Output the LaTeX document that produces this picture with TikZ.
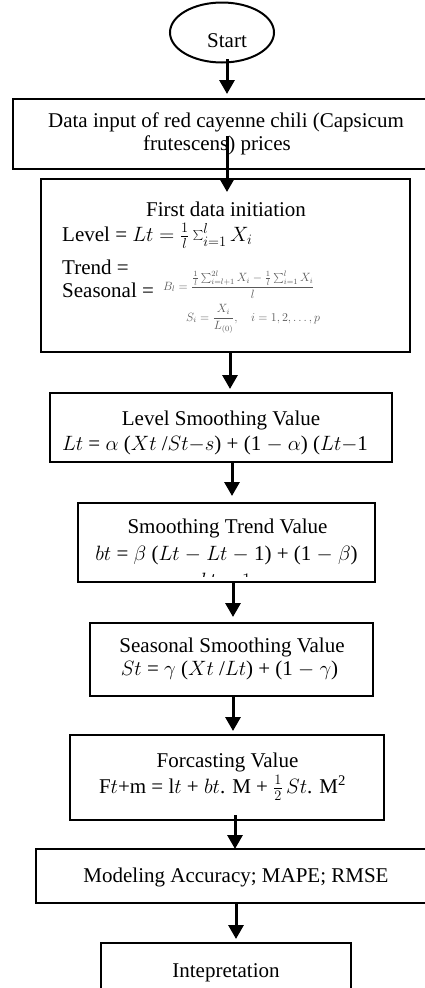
\documentclass[tikz,border=0pt]{standalone}
\usepackage{fontspec}
\setmainfont{Liberation Serif}
\usetikzlibrary{arrows.meta,shapes.geometric}
\begin{document}
\begin{tikzpicture}[x=1pt,y=-1pt,
  box/.style={draw,line width=2pt,rectangle,inner sep=0pt},
  arr/.style={line width=3pt,-{Triangle[length=14pt,width=15pt]}},
  txt/.style={inner sep=0pt,font=\fontsize{21}{23}\selectfont},
  small/.style={inner sep=0pt,text=black!65,font=\fontsize{11.5}{13}\selectfont}]
\clip (0,0) rectangle (425,988);
% shapes
\node[draw,ellipse,line width=2pt,minimum width=104pt,minimum height=60pt,inner sep=0pt] (start) at (222,32.5) {};
\node[box,minimum width=417pt,minimum height=70pt] (b1) at (221.5,134) {};
\node[box,minimum width=369pt,minimum height=173pt] (b2) at (225.5,265.5) {};
\node[box,minimum width=342pt,minimum height=69pt] (b3) at (221,427.5) {};
\node[box,minimum width=297pt,minimum height=79pt] (b4) at (226.5,542.5) {};
\node[box,minimum width=283pt,minimum height=73pt] (b5) at (231.5,659.5) {};
\node[box,minimum width=314pt,minimum height=85pt] (b6) at (227,777.5) {};
\node[box,minimum width=404pt,minimum height=54pt] (b7) at (238,876) {};
\node[box,minimum width=250pt,minimum height=57pt] (b8) at (226,971.5) {};
% texts
\node[txt,anchor=base] (t0) at (227,47) {Start};
\node[txt,anchor=base] (t1a) at (226,127) {Data input of red cayenne chili (Capsicum};
\node[txt,anchor=base] (t1b) at (217,150) {frutescens) prices};
\node[txt,anchor=base] (t2a) at (226,216) {First data initiation};
\node[txt,anchor=base west] (t2b) at (62,241) {Level = $Lt = \frac{1}{l}\sum_{i=1}^{l} X_i$};
\node[txt,anchor=base west] (t2c) at (62,274) {Trend =};
\node[txt,anchor=base west] (t2d) at (62,297) {Seasonal =};
\node[small,anchor=base west] (t2e) at (163,290) {$B_l=\displaystyle\frac{{\textstyle\frac{1}{l}}\sum\nolimits_{i=l+1}^{2l}X_i-{\textstyle\frac{1}{l}}\sum\nolimits_{i=1}^{l}X_i}{l}$};
\node[small,anchor=base west] (t2f) at (186,321) {$S_i=\displaystyle\frac{X_i}{L_{(0)}},\quad i=1,2,\ldots,p$};
\node[txt,anchor=base] (t3a) at (221,425) {Level Smoothing Value};
\node[txt,anchor=base] (t3b) at (215,450) {$Lt$ = $\alpha$ ($Xt$ /$St{-}s$) + (1 $-$ $\alpha$) ($Lt{-}$1};
\node[txt,anchor=base] (t4a) at (227.5,533) {Smoothing Trend Value};
\node[txt,anchor=base] (t4b) at (226.5,560) {$bt$ = $\beta$ ($Lt$ $-$ $Lt$ $-$ 1) + (1 $-$ $\beta$)};
\begin{scope}
\clip (79,504) rectangle (374,576);
\node[txt,anchor=base] (t4c) at (226,587) {$bt-1$};
\end{scope}
\node[txt,anchor=base] (t5a) at (232,652) {Seasonal Smoothing Value};
\node[txt,anchor=base] (t5b) at (229.5,675) {$St$ = $\gamma$ ($Xt$ /$Lt$) + (1 $-$ $\gamma$)};
\node[txt,anchor=base] (t6a) at (227.5,767) {Forcasting Value};
\node[txt,anchor=base] (t6b) at (222.5,793) {F$t$+m = l$t$ + $bt$. M + $\frac{1}{2}\,St$. M\textsuperscript{2}};
\node[txt,anchor=base] (t7) at (236,882) {Modeling Accuracy; MAPE; RMSE};
\node[txt,anchor=base] (t8) at (226,977) {Intepretation};
% arrows
\draw[arr] ([xshift=5pt,yshift=4.5pt]start.south) -- ([xshift=5.5pt,yshift=4pt]b1.north);
\draw[arr] ([xshift=5.5pt,yshift=34pt]b1.south) -- ([xshift=1.5pt,yshift=-14pt]b2.north);
\draw[arr] ([xshift=4.5pt]b2.south) -- ([xshift=9pt,yshift=3pt]b3.north);
\draw[arr] ([xshift=11pt]b3.south) -- ([xshift=5.5pt,yshift=6pt]b4.north);
\draw[arr] ([xshift=6.5pt]b4.south) -- ([xshift=1.5pt,yshift=5pt]b5.north);
\draw[arr] ([xshift=1.5pt]b5.south) -- ([xshift=6pt,yshift=3pt]b6.north);
\draw[arr] ([xshift=8pt,yshift=6pt]b6.south) -- ([xshift=-3pt,yshift=-1pt]b7.north);
\draw[arr] ([xshift=-2pt]b7.south) -- ([xshift=10pt,yshift=3pt]b8.north);
\end{tikzpicture}
\end{document}
